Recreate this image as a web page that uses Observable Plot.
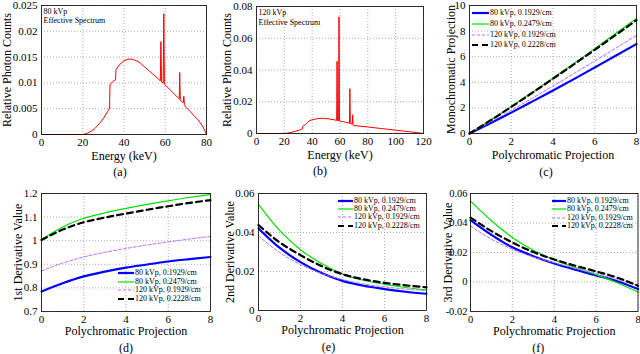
<!DOCTYPE html>
<html><head><meta charset="utf-8">
<script src="https://cdn.jsdelivr.net/npm/d3@7"></script>
<script src="https://cdn.jsdelivr.net/npm/@observablehq/plot@0.6"></script>
<style>
html,body{margin:0;padding:0;background:#fff;}
#root{position:relative;width:640px;height:354px;overflow:hidden;background:#fff;font-family:"Liberation Serif",serif;}
#root svg text{font-family:"Liberation Serif",serif !important;font-weight:normal !important;}
.leg{position:absolute;font-family:"Liberation Serif",serif;font-size:8px;line-height:8px;white-space:nowrap;color:#000;}
.leg div{position:absolute;left:0;display:flex;align-items:center;height:8px;}
.leg svg{display:block;}
</style></head>
<body><div id="root"></div>
<script>
// ---------- Data ----------
// (a) 80 kVp effective spectrum
const energy80 = [0, 20, 22, 24, 26, 28, 30, 32, 33, 33.2, 35, 35.9, 36.1, 38, 40, 42, 44, 46, 48, 50, 52, 54, 56, 57.6, 57.9, 58.2, 59.0, 59.3, 59.6, 60, 62, 64, 66, 66.8, 67.0, 67.3, 68.8, 69.0, 69.3, 70, 72, 74, 76, 78, 79, 80];
const counts80 = [0, 0, 0.0002, 0.0006, 0.0012, 0.0021, 0.0031, 0.0044, 0.0051, 0.0097, 0.0104, 0.0106, 0.0126, 0.0136, 0.0143, 0.0146, 0.0146, 0.0143, 0.0138, 0.0131, 0.0124, 0.0117, 0.0110, 0.0104, 0.0180, 0.0102, 0.0100, 0.0234, 0.0098, 0.0096, 0.0088, 0.0080, 0.0072, 0.0069, 0.0120, 0.0066, 0.0062, 0.0074, 0.0058, 0.0053, 0.0045, 0.0036, 0.0028, 0.0017, 0.0009, 0];
// (b) 120 kVp effective spectrum
const energy120 = [0, 20, 22, 25, 28, 31, 33, 33.2, 35, 36, 37, 38, 40, 44, 48, 52, 56, 57.6, 57.9, 58.2, 59.0, 59.3, 59.6, 60, 64, 66.8, 67.1, 67.4, 68.8, 69.1, 69.4, 70, 80, 90, 100, 110, 120];
const counts120 = [0, 0, 0.0002, 0.0007, 0.0014, 0.0022, 0.0029, 0.0045, 0.0055, 0.0063, 0.0072, 0.0080, 0.0087, 0.0094, 0.0096, 0.0092, 0.0086, 0.0082, 0.0455, 0.0082, 0.0080, 0.0735, 0.0079, 0.0078, 0.0071, 0.0065, 0.0282, 0.0063, 0.0060, 0.0118, 0.0052, 0.0050, 0.0041, 0.0031, 0.0021, 0.0011, 0];

// series
const seriesNames = ["80 kVp, 0.1929/cm", "80 kVp, 0.2479/cm", "120 kVp, 0.1929/cm", "120 kVp, 0.2228/cm"];
const polyProj = [0, 1, 2, 3, 4, 5, 6, 7, 8];
// (c) monochromatic projection
const mono80a  = [0, 0.80, 1.63, 2.49, 3.36, 4.25, 5.16, 6.07, 6.99];
const mono80b  = [0, 1.03, 2.10, 3.20, 4.33, 5.47, 6.63, 7.81, 8.99];
const mono120a = [0, 0.89, 1.81, 2.75, 3.71, 4.68, 5.66, 6.66, 7.67];
const mono120b = [0, 1.02, 2.08, 3.17, 4.28, 5.40, 6.54, 7.69, 8.86];
// (d) 1st derivative
const d1_80a  = [0.785, 0.820, 0.849, 0.869, 0.886, 0.899, 0.912, 0.922, 0.931];
const d1_80b  = [1.005, 1.058, 1.095, 1.118, 1.137, 1.154, 1.169, 1.183, 1.195];
const d1_120a = [0.872, 0.905, 0.931, 0.951, 0.967, 0.982, 0.995, 1.007, 1.018];
const d1_120b = [1.003, 1.047, 1.078, 1.098, 1.115, 1.131, 1.146, 1.160, 1.172];
// (e) 2nd derivative
const d2_80a  = [0.0421, 0.0322, 0.0248, 0.0192, 0.0152, 0.0127, 0.0110, 0.0096, 0.0086];
const d2_80b  = [0.0544, 0.0411, 0.0312, 0.0241, 0.0188, 0.0155, 0.0134, 0.0118, 0.0106];
const d2_120a = [0.0382, 0.0298, 0.0236, 0.0190, 0.0158, 0.0136, 0.0121, 0.0110, 0.0102];
const d2_120b = [0.0438, 0.0350, 0.0284, 0.0228, 0.0186, 0.0160, 0.0142, 0.0129, 0.0119];
// (f) 3rd derivative
const d3_80a  = [0.0420, 0.0320, 0.0235, 0.0175, 0.0125, 0.0083, 0.0045, 0.0005, -0.0048];
const d3_80b  = [0.0548, 0.0415, 0.0302, 0.0215, 0.0150, 0.0098, 0.0050, -0.0005, -0.0068];
const d3_120a = [0.0380, 0.0290, 0.0222, 0.0170, 0.0130, 0.0093, 0.0060, 0.0018, -0.0025];
const d3_120b = [0.0437, 0.0345, 0.0268, 0.0203, 0.0153, 0.0110, 0.0072, 0.0030, -0.0025];

// tick values
const ticksA_x = [0, 20, 40, 60, 80];
const ticksA_y = [0, 0.005, 0.01, 0.015, 0.02, 0.025];
const ticksB_x = [0, 20, 40, 60, 80, 100, 120];
const ticksB_y = [0, 0.02, 0.04, 0.06, 0.08];
const ticksP_x = [0, 2, 4, 6, 8];
const ticksC_y = [0, 2, 4, 6, 8, 10];
const ticksD_y = [0.7, 0.8, 0.9, 1, 1.1, 1.2];
const ticksE_y = [0, 0.02, 0.04, 0.06];
const ticksF_y = [-0.02, 0, 0.02, 0.04, 0.06];

// ---------- styles ----------
const FONT = "Liberation Serif";
const sStyles = [
  {stroke: "#0000ff", strokeWidth: 2.2, dash: null},
  {stroke: "#00e000", strokeWidth: 1.2, dash: null},
  {stroke: "#b46cff", strokeWidth: 1, dash: "3,2"},
  {stroke: "#000000", strokeWidth: 2.2, dash: "6,4"}
];
const fmt = d => String(+d.toFixed(4));

function build(series) {
  const rows = [];
  series.forEach((arr, si) => arr.forEach((v, i) => rows.push({x: polyProj[i], y: v, s: si})));
  return rows;
}

function txt(s, opts) {
  return Plot.text([s], {text: d => d, fontFamily: FONT, fontWeight: "normal", lineAnchor: "middle", textAnchor: "middle", ...opts});
}

function panel(o) {
  const tf = o.tickFont || 11;
  const marks = [
    Plot.gridX(o.xTicks, {stroke: "#888", strokeOpacity: 1, strokeWidth: 0.7, strokeDasharray: "1,2"}),
    Plot.gridY(o.yTicks, {stroke: "#888", strokeOpacity: 1, strokeWidth: 0.7, strokeDasharray: "1,2"}),
    ...o.lines,
    Plot.frame({stroke: "#000", strokeWidth: 0.8}),
    Plot.axisX(o.xTicks, {tickSize: 0, tickPadding: 4, label: null, tickFormat: fmt, fontSize: tf, fontFamily: FONT}),
    Plot.axisY(o.yTicks, {tickSize: 0, tickPadding: o.yPad || 4, label: null, tickFormat: fmt, fontSize: tf, fontFamily: FONT}),
    txt(o.xLabel, {frameAnchor: "bottom", dx: o.xlDx || 0, dy: o.xlDy, fontSize: 12}),
    txt(o.yLabel, {frameAnchor: "left", rotate: -90, dx: o.ylDx, fontSize: 12}),
    txt(o.caption, {frameAnchor: "bottom", dx: o.capDx, dy: o.capDy, fontSize: 12}),
    ...(o.extra || [])
  ];
  const svg = Plot.plot({
    width: o.w, height: o.h,
    marginLeft: o.m[0], marginRight: o.m[1], marginTop: o.m[2], marginBottom: o.m[3],
    x: {domain: o.xDomain, axis: null},
    y: {domain: o.yDomain, axis: null},
    style: {fontFamily: FONT, fontSize: "11px", overflow: "visible", background: "transparent", color: "#000"},
    marks
  });
  svg.style.left = o.left + "px";
  svg.style.top = o.top + "px";
  svg.style.position = "absolute";
  document.getElementById("root").appendChild(svg);
}

function seriesLines(rows) {
  return [0, 1, 2, 3].map(si => Plot.line(rows.filter(r => r.s === si), {
    x: "x", y: "y", curve: "monotone-x",
    stroke: sStyles[si].stroke, strokeWidth: sStyles[si].strokeWidth,
    strokeDasharray: sStyles[si].dash || undefined
  }));
}

function legend(left, top, rowH, swW) {
  const div = document.createElement("div");
  div.className = "leg";
  div.style.left = left + "px";
  div.style.top = top + "px";
  seriesNames.forEach((name, i) => {
    const row = document.createElement("div");
    row.style.top = (i * rowH - 4) + "px";
    const st = sStyles[i];
    row.innerHTML = `<svg width="${swW}" height="8"><line x1="0" x2="${swW}" y1="4" y2="4" stroke="${st.stroke}" stroke-width="${st.strokeWidth}" ${st.dash ? `stroke-dasharray="${st.dash}"` : ""}/></svg><span style="margin-left:1px">${name}</span>`;
    div.appendChild(row);
  });
  document.getElementById("root").appendChild(div);
}

// ---------- Panels ----------
const specA = energy80.map((e, i) => ({x: e, y: counts80[i]}));
const specB = energy120.map((e, i) => ({x: e, y: counts120[i]}));

panel({left: 0, top: 0, w: 213, h: 177, m: [41, 7, 5, 43],
  xDomain: [0, 80], yDomain: [0, 0.025], xTicks: ticksA_x, yTicks: ticksA_y,
  lines: [Plot.line(specA, {x: "x", y: "y", stroke: "#ff0000", strokeWidth: 1})],
  xLabel: "Energy (keV)", xlDy: 22, yLabel: "Relative Photon Counts", ylDx: -34,
  caption: "(a)", capDx: -4, capDy: 38,
  extra: [
    txt("80 kVp", {frameAnchor: "top-left", textAnchor: "start", dx: 2, dy: 6, fontSize: 8}),
    txt("Effective Spectrum", {frameAnchor: "top-left", textAnchor: "start", dx: 2, dy: 15, fontSize: 8})
  ]});

panel({left: 213, top: 0, w: 213, h: 177, m: [43, 3, 6, 44],
  xDomain: [0, 120], yDomain: [0, 0.08], xTicks: ticksB_x, yTicks: ticksB_y,
  lines: [Plot.line(specB, {x: "x", y: "y", stroke: "#ff0000", strokeWidth: 1})],
  xLabel: "Energy (keV)", xlDy: 22, yLabel: "Relative Photon Counts", ylDx: -29,
  caption: "(b)", capDx: -20, capDy: 38,
  extra: [
    txt("120 kVp", {frameAnchor: "top-left", textAnchor: "start", dx: 2, dy: 6, fontSize: 8}),
    txt("Effective Spectrum", {frameAnchor: "top-left", textAnchor: "start", dx: 2, dy: 16, fontSize: 8})
  ]});

panel({left: 426, top: 0, w: 214, h: 177, m: [43, 4, 5, 44],
  xDomain: [0, 8], yDomain: [0, 10], xTicks: ticksP_x, yTicks: ticksC_y,
  lines: seriesLines(build([mono80a, mono80b, mono120a, mono120b])),
  xLabel: "Polychromatic Projection", xlDy: 22, yLabel: "Monochromatic Projection", ylDx: -18,
  caption: "(c)", capDx: -7, capDy: 39});

panel({left: 0, top: 177, w: 213, h: 177, m: [41, 3, 16, 43],
  xDomain: [0, 8], yDomain: [0.7, 1.2], xTicks: ticksP_x, yTicks: ticksD_y,
  lines: seriesLines(build([d1_80a, d1_80b, d1_120a, d1_120b])),
  xLabel: "Polychromatic Projection", xlDy: 20, yLabel: "1st Derivative Value", ylDx: -23,
  caption: "(d)", capDx: 0, capDy: 37});

panel({left: 213, top: 177, w: 213, h: 177, m: [45, 0, 16, 44],
  xDomain: [0, 8], yDomain: [0, 0.06], xTicks: ticksP_x, yTicks: ticksE_y,
  lines: seriesLines(build([d2_80a, d2_80b, d2_120a, d2_120b])),
  xLabel: "Polychromatic Projection", xlDy: 20, yLabel: "2nd Derivative Value", ylDx: -28,
  caption: "(e)", capDx: -14, capDy: 37});

panel({left: 426, top: 177, w: 214, h: 177, m: [44, 2.5, 16, 43], tickFont: 10.5, yPad: 3,
  xDomain: [0, 8], yDomain: [-0.02, 0.06], xTicks: ticksP_x, yTicks: ticksF_y,
  lines: seriesLines(build([d3_80a, d3_80b, d3_120a, d3_120b])),
  xLabel: "Polychromatic Projection", xlDy: 20, yLabel: "3rd Derivative Value", ylDx: -22,
  caption: "(f)", capDx: -16, capDy: 37});

legend(472, 13.3, 10.7, 17);
legend(118, 273, 8.6, 16);
legend(338, 200.5, 8.4, 15);
legend(552, 201, 8.4, 14);
</script>
</body></html>
